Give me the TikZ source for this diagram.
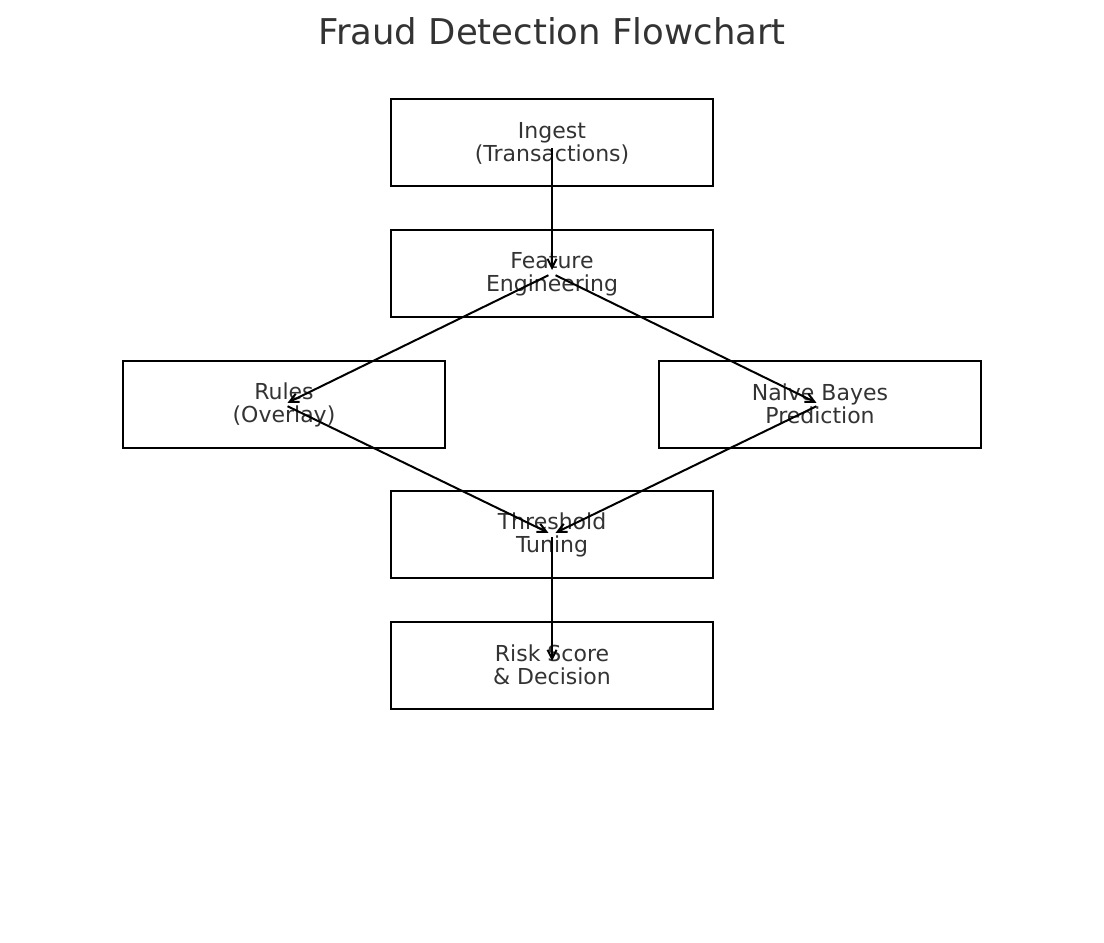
\documentclass[tikz,border=0pt]{standalone}
\usepackage{fontspec}
\setmainfont{DejaVu Sans}
\usetikzlibrary{arrows.meta}
\definecolor{txt}{HTML}{333333}
\newcommand{\topstrut}{\rule{0pt}{18pt}}
\newcommand{\botstrut}{\rule[-3.7pt]{0pt}{3.7pt}}
\tikzset{
  box/.style={draw=black, line width=2pt, minimum width=322pt, minimum height=87pt,
    inner sep=0pt, align=center, text=txt,
    font=\fontsize{22}{22.7}\selectfont},
  flow/.style={draw=black, line width=2pt, shorten <=4pt, shorten >=4pt,
    -{Straight Barb[length=9pt,width=9pt,line width=2pt]}},
}
\begin{document}
\begin{tikzpicture}[x=1pt,y=-1pt]
\useasboundingbox (0,0) rectangle (1104,943);
\node[anchor=base, text=txt, font=\fontsize{35.5}{40}\selectfont] (title) at (552,44.5) {Fraud Detection Flowchart};
\node[box] (ingest) at (552,142.5) {\topstrut Ingest\\(Transactions)\botstrut};
\node[box] (feat) at (552,273.5) {\topstrut Feature\\Engineering\botstrut};
\node[box] (rules) at (284,404.5) {\topstrut Rules\\(Overlay)\botstrut};
\node[box] (nb) at (820,404.5) {\topstrut Naive Bayes\\Prediction\botstrut};
\node[box] (thr) at (552,534.5) {\topstrut Threshold\\Tuning\botstrut};
\node[box] (risk) at (552,665.5) {\topstrut Risk Score\\\& Decision\botstrut};
\draw[flow, shorten <=5.5pt, shorten >=3.5pt] (ingest.center) -- (feat.center);
\draw[flow] (feat.center) -- (rules.center);
\draw[flow] (feat.center) -- (nb.center);
\draw[flow] (rules.center) -- (thr.center);
\draw[flow] (nb.center) -- (thr.center);
\draw[flow, shorten <=2.5pt, shorten >=4.5pt] (thr.center) -- (risk.center);
\end{tikzpicture}
\end{document}
